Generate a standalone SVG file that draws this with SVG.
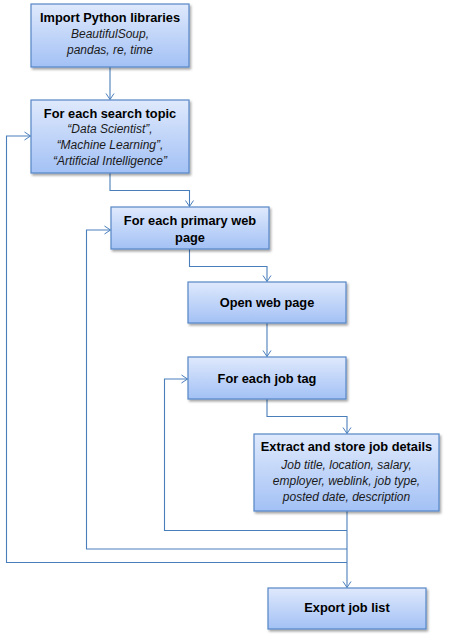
<svg xmlns="http://www.w3.org/2000/svg" width="449" height="639" viewBox="0 0 449 639">
<defs>
<linearGradient id="g" x1="0" y1="0" x2="0" y2="1">
<stop offset="0" stop-color="#dfe9fc"/>
<stop offset="1" stop-color="#a3c1f5"/>
</linearGradient>
<filter id="sh" x="-10%" y="-10%" width="125%" height="135%">
<feDropShadow dx="1.5" dy="2" stdDeviation="1.2" flood-color="#000" flood-opacity="0.35"/>
</filter>
<marker id="ah" markerWidth="12" markerHeight="12" refX="7" refY="5" orient="auto" markerUnits="userSpaceOnUse">
<path d="M1,1 L7,5 L1,9" fill="none" stroke="#4a7ebb" stroke-width="1"/>
</marker>
<style>
.box{fill:url(#g);stroke:#5786c6;stroke-width:1.2;filter:url(#sh)}
.t{font-family:"Liberation Sans",Arial,sans-serif;font-weight:bold;font-size:12.8px;fill:#000;text-anchor:middle}
.i{font-family:"Liberation Sans",Arial,sans-serif;font-style:italic;font-size:12px;fill:#1a1a1a;text-anchor:middle}
.c{fill:none;stroke:#4a7ebb;stroke-width:1.1}
</style>
</defs>
<g id="connectors">
<path class="c" d="M110,67 V99.5" marker-end="url(#ah)"/>
<path class="c" d="M110,173 V190.5 H189.5 V206.5" marker-end="url(#ah)"/>
<path class="c" d="M189.5,249 V266.5 H267 V281.5" marker-end="url(#ah)"/>
<path class="c" d="M267,323 V356.5" marker-end="url(#ah)"/>
<path class="c" d="M267,399 V416.5 H347 V433.5" marker-end="url(#ah)"/>
<path class="c" d="M347,511 V587.5" marker-end="url(#ah)"/>
<path class="c" d="M347,530.5 H164.5 V379 H187.5" marker-end="url(#ah)"/>
<path class="c" d="M347,549 H86.5 V230 H110.5" marker-end="url(#ah)"/>
<path class="c" d="M347,562.5 H6.5 V136 H30.5" marker-end="url(#ah)"/>
</g>
<g id="import">
<rect class="box" x="31" y="4" width="158" height="63"/>
<text class="t" x="110" y="22">Import Python libraries</text>
<text class="i" x="110" y="38">BeautifulSoup,</text>
<text class="i" x="110" y="54">pandas, re, time</text>
</g>
<g id="topic">
<rect class="box" x="31" y="100" width="158" height="73"/>
<text class="t" x="110" y="118">For each search topic</text>
<text class="i" x="110" y="133">“Data Scientist”,</text>
<text class="i" x="110" y="149">“Machine Learning”,</text>
<text class="i" x="110" y="165">“Artificial Intelligence”</text>
</g>
<g id="page">
<rect class="box" x="111" y="207" width="158" height="42"/>
<text class="t" x="190" y="225">For each primary web</text>
<text class="t" x="190" y="242">page</text>
</g>
<g id="open">
<rect class="box" x="188" y="282" width="158" height="41"/>
<text class="t" x="267" y="307">Open web page</text>
</g>
<g id="jobtag">
<rect class="box" x="188" y="357" width="158" height="42"/>
<text class="t" x="267" y="383">For each job tag</text>
</g>
<g id="extract">
<rect class="box" x="254" y="434" width="185" height="77"/>
<text class="t" x="346.5" y="451">Extract and store job details</text>
<text class="i" x="346.5" y="469">Job title,  location, salary,</text>
<text class="i" x="346.5" y="485">employer, weblink, job type,</text>
<text class="i" x="346.5" y="501">posted date, description</text>
</g>
<g id="export">
<rect class="box" x="268" y="588" width="158" height="41"/>
<text class="t" x="347" y="612">Export job list</text>
</g>
</svg>
